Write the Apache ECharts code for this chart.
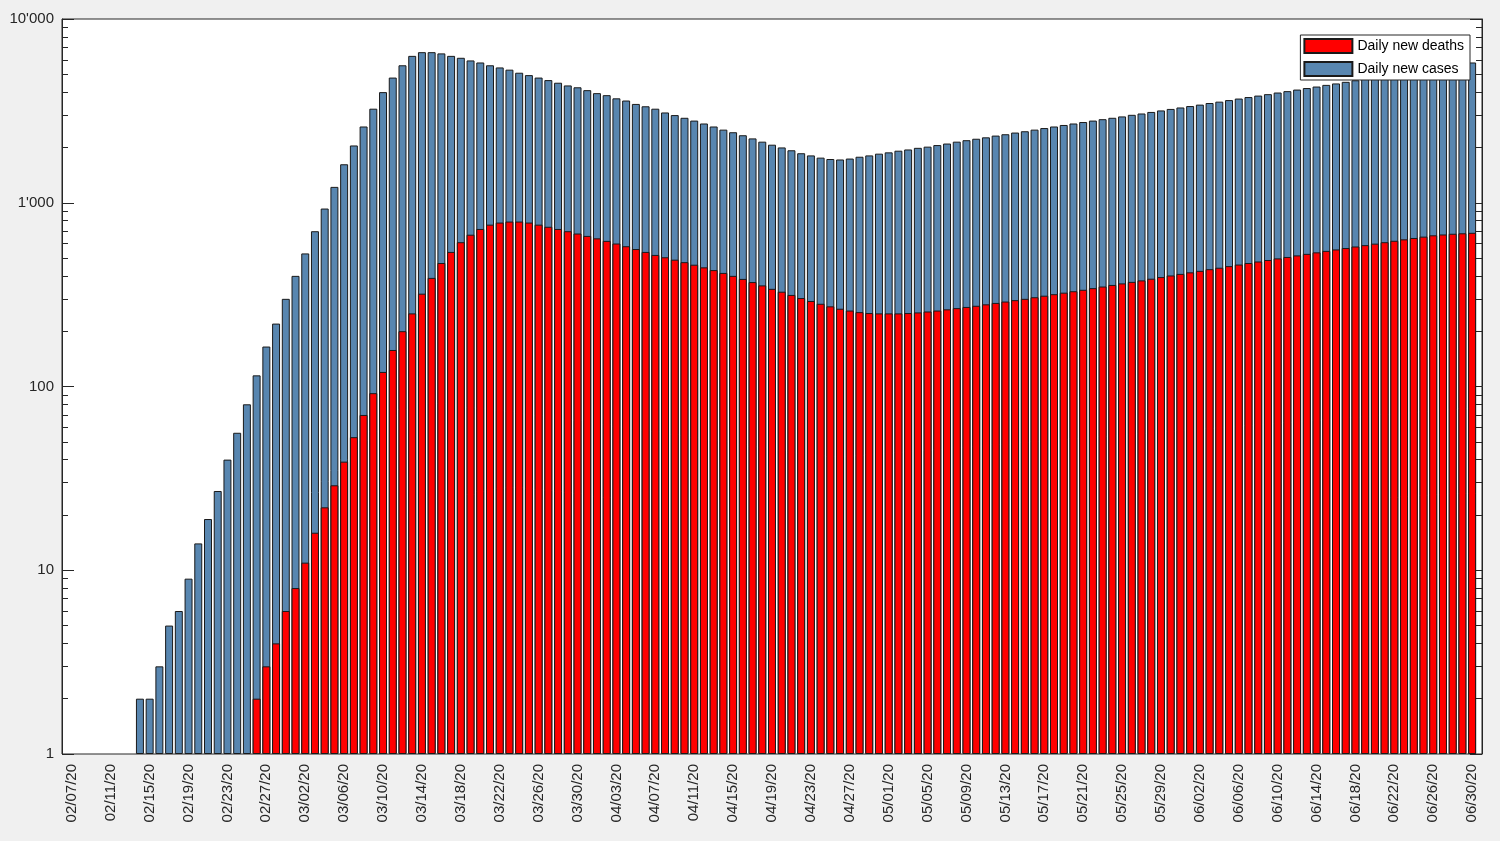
<!DOCTYPE html>
<html lang="en">
<head>
<meta charset="UTF-8">
<title>Daily new cases and deaths</title>
<script src="https://cdn.jsdelivr.net/npm/echarts@6/dist/echarts.min.js"></script>
<style>
  *{margin:0;}
  html,body{height:100%;background:#f0f0f0;}
  #chart{width:1500px;height:841px;}
</style>
</head>
<body>
<div id="chart"></div>
<script>
// categories: 02/07/20 .. 06/30/20
const firstDay = new Date(2020, 1, 7);
const dates = [];
for (let i = 0; i < 145; i++) {
  const d = new Date(firstDay.getTime() + i * 86400000);
  const mm = String(d.getMonth() + 1).padStart(2, '0');
  const dd = String(d.getDate()).padStart(2, '0');
  dates.push(mm + '/' + dd + '/20');
}

// values (null = no bar)
const newCases = [
  null,null,null,null,null,null,null,
  2,2,3,5,6,9,14,19,27,40,56,80,115,165,220,300,
  400,530,700,930,1220,1620,2050,2600,3250,4000,4800,5600,6300,6600,6600,6500,6300,6150,5950,5800,5600,5450,5300,5100,4950,4800,4650,4500,4350,4250,4100,
  3950,3850,3700,3600,3450,3350,3250,3100,3000,2900,2800,2700,2600,2500,2420,2330,2240,2150,2070,2000,1930,1860,1810,1760,1730,1720,1740,1780,1810,1850,
  1880,1920,1950,1990,2020,2060,2100,2150,2190,2230,2270,2320,2360,2410,2450,2500,2550,2600,2650,2700,2750,2800,2850,2900,2950,3010,3060,3120,3180,3240,3300,
  3360,3420,3490,3550,3620,3690,3760,3830,3900,3980,4050,4130,4210,4290,4380,4460,4550,4640,4730,4820,4920,5010,5110,5210,5310,5420,5520,5630,5740,5800
];
const newDeaths = [
  null,null,null,null,null,null,null,null,null,null,null,null,null,null,null,null,null,null,null,
  2,3,4,6,
  8,11,16,22,29,39,53,70,92,120,158,200,250,320,390,470,540,610,670,720,760,780,790,790,780,760,740,720,700,680,660,
  640,620,600,580,560,540,520,505,490,475,460,445,430,415,400,385,370,355,340,328,315,303,292,282,273,265,259,254,251,250,
  250,250,251,253,256,259,263,267,271,275,280,285,290,295,300,306,312,318,324,330,336,343,350,357,364,371,378,386,394,402,410,
  418,426,435,443,452,461,470,479,488,498,507,517,527,537,547,557,567,578,588,599,610,621,632,643,654,665,672,678,682,686
];
const yTickLabels = {1: '1', 10: '10', 100: '100', 1000: "1'000", 10000: "10'000"};

const chart = echarts.init(document.getElementById('chart'));
const axisText = {color: '#262626', fontFamily: 'Liberation Sans, Arial', fontSize: 15};
const lineStyle = {color: '#262626', width: 1};

chart.setOption({
  animation: false,
  backgroundColor: '#f0f0f0',
  // plot frame sits a few px outside the category band, as in the original
  graphic: [{
    type: 'rect', z: -1, silent: true,
    shape: {x: 62, y: 19, width: 1420, height: 735},
    style: {fill: '#fff', stroke: '#262626', lineWidth: 1}
  }],
  grid: {left: 67, right: 23, top: 19, bottom: 87},
  legend: {
    data: ['Daily new deaths', 'Daily new cases'],
    orient: 'vertical',
    right: 30, top: 35,
    icon: 'rect',
    itemWidth: 48, itemHeight: 14, itemGap: 7,
    backgroundColor: '#fff', borderColor: '#262626', borderWidth: 1,
    padding: [3, 6, 3, 3],
    textStyle: {color: '#000', fontFamily: 'Liberation Sans, Arial', fontSize: 14}
  },
  xAxis: [{
    type: 'category', data: dates, boundaryGap: true,
    axisLine: {show: false},
    axisTick: {inside: true, length: 12, interval: 3, alignWithLabel: true, lineStyle: lineStyle},
    axisLabel: Object.assign({interval: 3, rotate: 90, margin: 10}, axisText)
  }, {
    type: 'category', data: dates, position: 'top', boundaryGap: true,
    axisLine: {show: false},
    axisTick: {inside: true, length: 12, interval: 3, alignWithLabel: true, lineStyle: lineStyle},
    axisLabel: {show: false}
  }],
  yAxis: [{
    type: 'log', min: 1, max: 10000, logBase: 10, offset: 5,
    axisLine: {show: true, lineStyle: lineStyle},
    axisTick: {show: true, inside: true, length: 12, lineStyle: lineStyle},
    minorTick: {show: true, splitNumber: 9, length: 6, lineStyle: {color: '#262626'}},
    splitLine: {show: false},
    axisLabel: Object.assign({formatter: v => yTickLabels[v] || ''}, axisText)
  }, {
    type: 'log', min: 1, max: 10000, logBase: 10, position: 'right', offset: 5,
    axisLine: {show: true, lineStyle: lineStyle},
    axisTick: {show: true, inside: true, length: 12, lineStyle: lineStyle},
    minorTick: {show: true, splitNumber: 9, length: 6, lineStyle: {color: '#262626'}},
    splitLine: {show: false},
    axisLabel: {show: false}
  }],
  series: [{
    name: 'Daily new cases', type: 'bar', data: newCases,
    barWidth: '82%', barGap: '-100%',
    itemStyle: {color: '#5886b0', borderColor: '#1a1a1a', borderWidth: 1}
  }, {
    name: 'Daily new deaths', type: 'bar', data: newDeaths,
    barWidth: '82%', barGap: '-100%',
    itemStyle: {color: '#ff0000', borderColor: '#1a1a1a', borderWidth: 1}
  }]
});
</script>
</body>
</html>
